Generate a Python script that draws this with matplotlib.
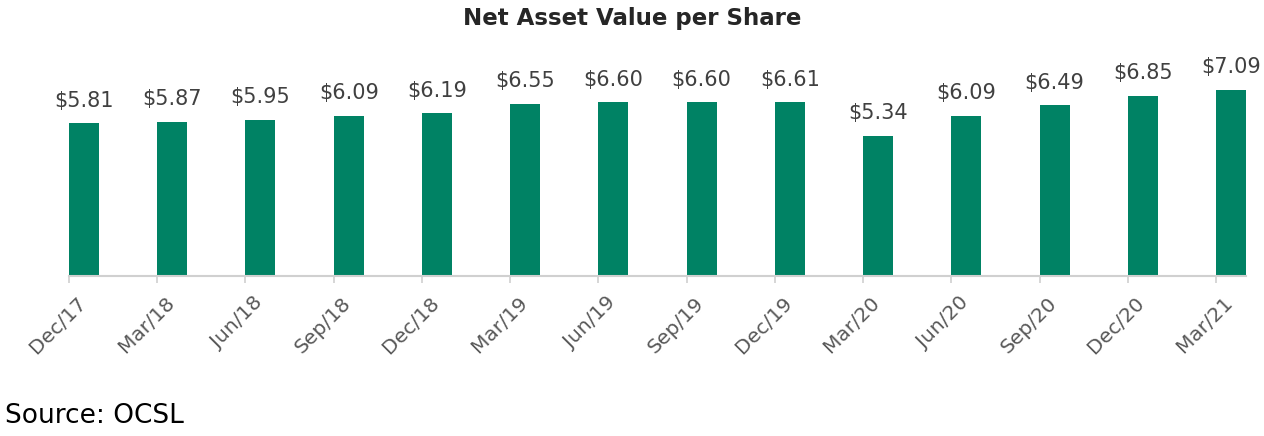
import matplotlib
matplotlib.use("Agg")
import numpy as np
import matplotlib.pyplot as plt
from matplotlib.transforms import ScaledTranslation

# -------------------------------------------------------
# Data
# -------------------------------------------------------

periodos = [
    "Dec/17", "Mar/18", "Jun/18", "Sep/18", "Dec/18", "Mar/19", "Jun/19",
    "Sep/19", "Dec/19", "Mar/20", "Jun/20", "Sep/20", "Dec/20", "Mar/21",
]

nav = [5.81, 5.87, 5.95, 6.09, 6.19, 6.55, 6.60,
       6.60, 6.61, 5.34, 6.09, 6.49, 6.85, 7.09]

VERDE = "#008264"
GRIS_TEXTO = "#404040"
GRIS_EJE = "#d0d0d0"

plt.rcParams["font.family"] = ["DejaVu Sans"]

fig = plt.figure(figsize=(12.64, 4.36), dpi=100)
ax = fig.add_axes([69 / 1264, 160 / 436, 1177 / 1264, 210.4 / 436])

x = np.arange(len(periodos))
ancho = 0.34

barras = ax.bar(x, nav, width=ancho, align="edge", color=VERDE)

for b, v in zip(barras, nav):
    ax.annotate(
        f"${v:.2f}",
        (b.get_x() + b.get_width() / 2, v),
        xytext=(0, 9),
        textcoords="offset points",
        ha="center",
        va="bottom",
        fontsize=15,
        color=GRIS_TEXTO,
        annotation_clip=False,
    )

ax.set_xlim(0, len(periodos) - 1 + ancho)
ax.set_ylim(0, 8)

ax.set_xticks(x)
ax.set_xticklabels(periodos, fontsize=14.5, color="#595959")
ax.tick_params(axis="x", length=5, width=1.2, color=GRIS_EJE, pad=0)
ax.set_yticks([])

desplaza = ScaledTranslation(14 / 100, -17 / 100, fig.dpi_scale_trans)
for et in ax.get_xticklabels():
    et.set_rotation(45)
    et.set_rotation_mode("anchor")
    et.set_ha("right")
    et.set_va("center")
    et.set_transform(et.get_transform() + desplaza)

for lado in ["top", "right", "left"]:
    ax.spines[lado].set_visible(False)
ax.spines["bottom"].set_color(GRIS_EJE)
ax.spines["bottom"].set_linewidth(1.5)

fig.text(0.5, 1 - 18 / 436, "Net Asset Value per Share", ha="center", va="center",
         fontsize=16.5, fontweight="bold", color="#262626")

fig.text(5 / 1264, 1 - 416 / 436, "Source: OCSL", ha="left", va="center",
         fontsize=19, color="black")

fig.savefig("out.png", dpi=100)
